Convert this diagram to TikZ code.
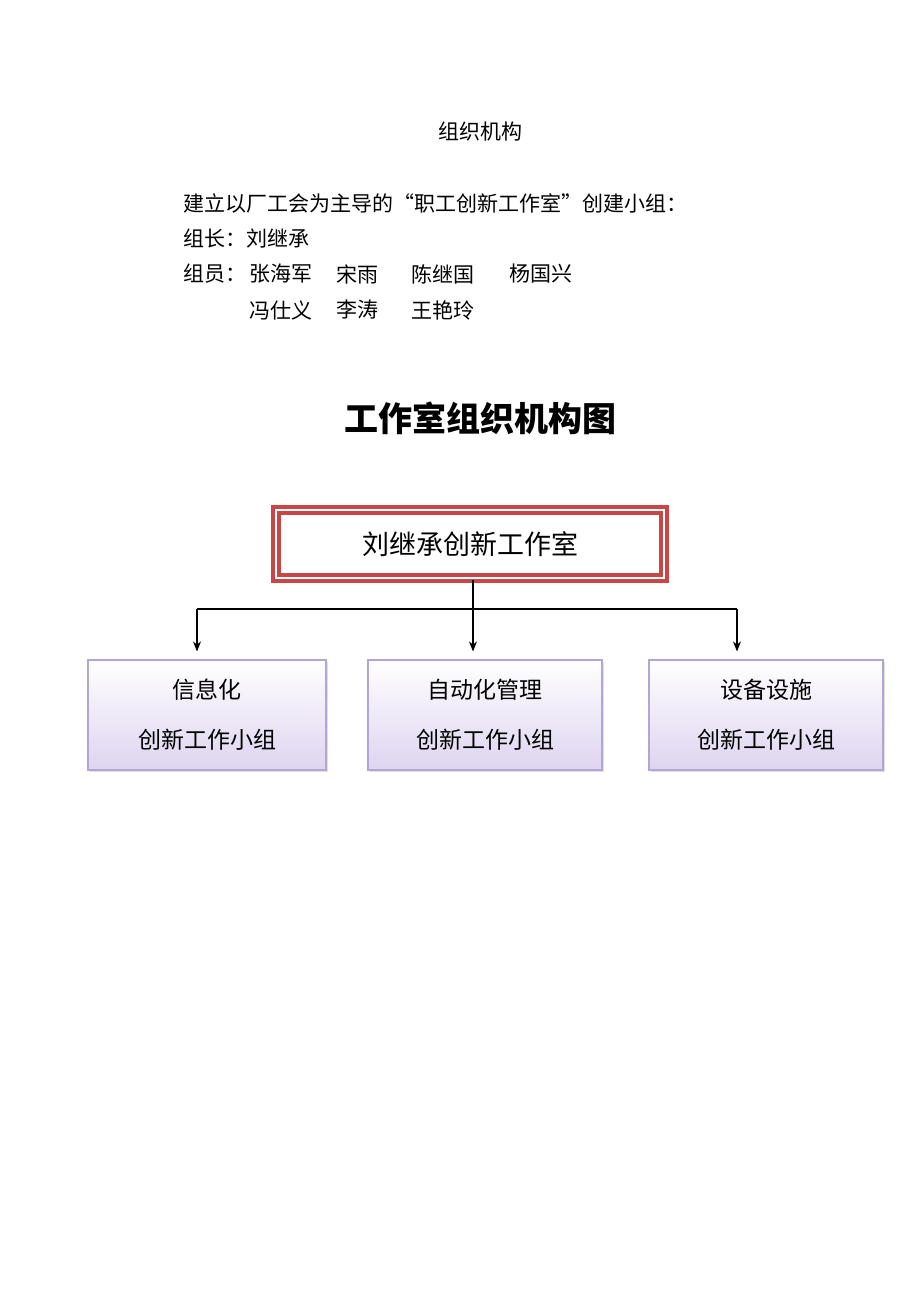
\documentclass[tikz,border=0pt]{standalone}
\usepackage{fontspec}
\newfontfamily\cjk{Noto Sans CJK SC}
\usetikzlibrary{arrows.meta,shadows}
\definecolor{boxred}{RGB}{200,70,70}
\definecolor{boxedge}{RGB}{180,165,215}
\definecolor{boxlav}{RGB}{222,212,240}
\tikzset{
  plain/.style = {inner sep=0pt, font=\cjk\fontsize{10.5pt}{12pt}\selectfont},
  headbox/.style = {draw=boxred, line width=2pt, double=white, double distance=1.2pt,
    minimum width=194pt, minimum height=34pt, font=\cjk\fontsize{13.5pt}{15pt}\selectfont},
  groupbox/.style = {draw=boxedge, line width=0.6pt, top color=white, bottom color=boxlav,
    drop shadow={shadow xshift=1pt, shadow yshift=-1pt, fill=black!25},
    minimum height=55pt, align=center, font=\cjk\fontsize{11.5pt}{25pt}\selectfont}
}
\begin{document}
\begin{tikzpicture}[x=0.5pt,y=-0.5pt,>={Stealth[length=5pt,width=4pt]}]
\useasboundingbox (0,0) rectangle (920,1302);
% text above the chart
\node[plain] (title) at (480,132) {组织机构};
\node[plain,anchor=west] (intro) at (183,203) {建立以厂工会为主导的“职工创新工作室”创建小组：};
\node[plain,anchor=west] (lead) at (183,239) {组长：刘继承};
\node[plain,anchor=west] (memb) at (183,274) {组员：};
\foreach \n/\x/\y in {张海军/249/274, 宋雨/336/274, 陈继国/411/274, 杨国兴/509/274,
                      冯仕义/249/310, 李涛/336/310, 王艳玲/411/310}
  \node[plain,anchor=west] at (\x,\y) {\n};
\node[font=\cjk\bfseries\fontsize{17pt}{20pt}\selectfont] (chart) at (480,418) {工作室组织机构图};
% chart
\node[headbox] (head) at (470,544) {刘继承创新工作室};
\node[groupbox,minimum width=119pt] (info) at (207,715) {信息化\\创新工作小组};
\node[groupbox,minimum width=117pt] (auto) at (485,715) {自动化管理\\创新工作小组};
\node[groupbox,minimum width=117pt] (equip) at (766,715) {设备设施\\创新工作小组};
\coordinate (split) at (473,609);
\draw[line width=0.6pt] (head.south -| split) -- (split);
\draw[line width=1.2pt] (197,609) coordinate (lt) -- (737,609) coordinate (rt);
\draw[->,line width=0.6pt] (lt) -- ([yshift=4pt]info.north -| lt);
\draw[->,line width=0.6pt] (split) -- ([yshift=4pt]auto.north -| split);
\draw[->,line width=0.6pt] (rt) -- ([yshift=4pt]equip.north -| rt);
\end{tikzpicture}
\end{document}
